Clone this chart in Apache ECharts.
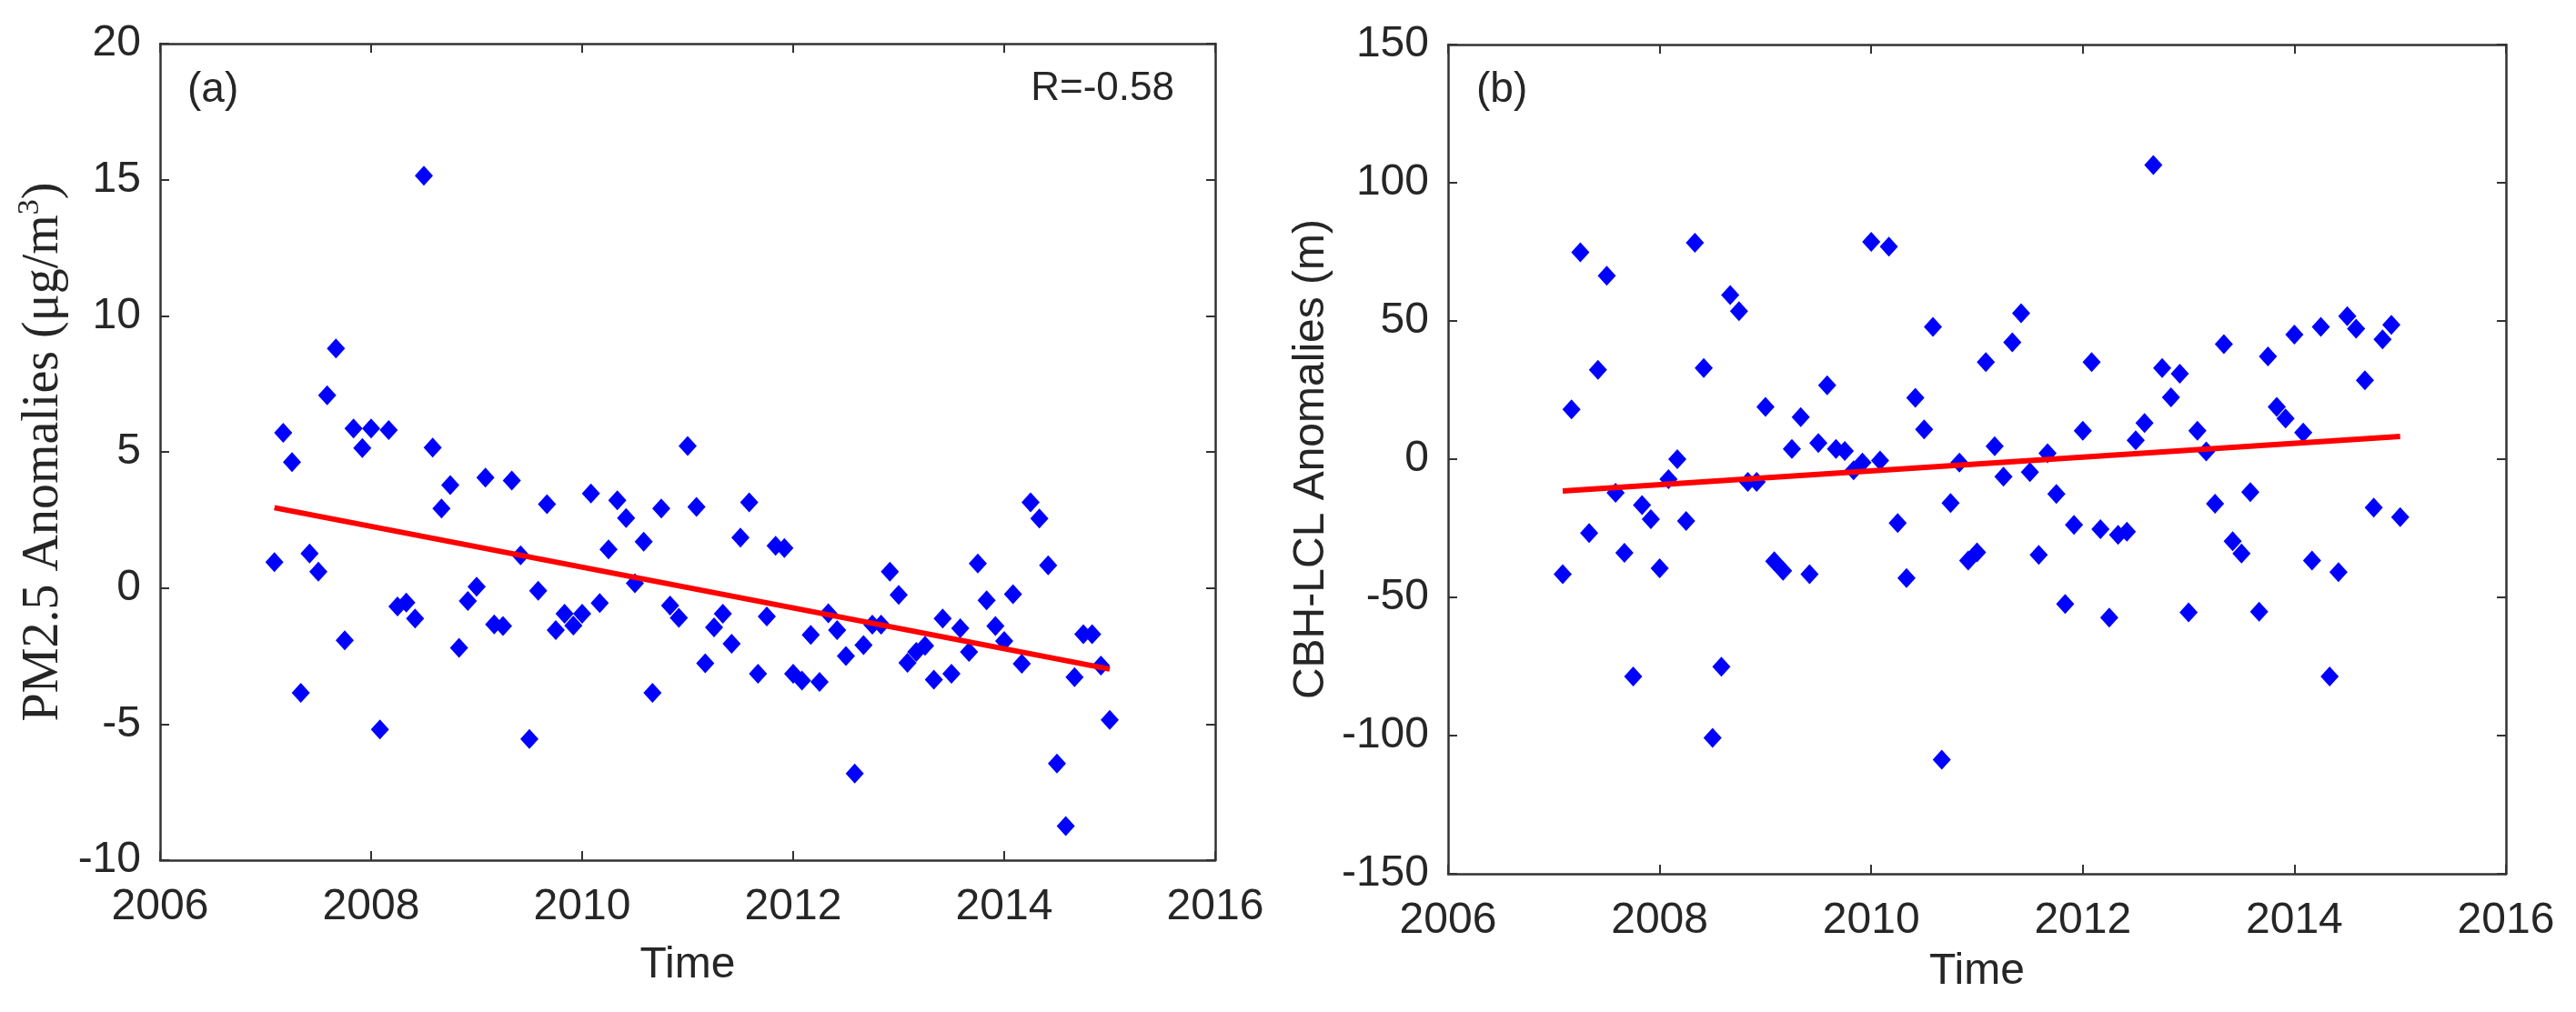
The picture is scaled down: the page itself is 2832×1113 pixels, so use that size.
<!DOCTYPE html>
<html>
<head>
<meta charset="utf-8">
<script src="https://cdn.jsdelivr.net/npm/echarts@6/dist/echarts.min.js"></script>
<style>
  html, body { margin: 0; padding: 0; background: #fff; }
  #chart { width: 2832px; height: 1113px; }
</style>
</head>
<body>
<div id="chart"></div>
<script>
// monthly samples, Feb 2007 .. Jan 2015 (decimal years)
const startYear = 2007;
const monthCount = 96;
const months = [];
for (let i = 1; i <= monthCount; i++) months.push(startYear + i / 12);

const xTicks = [2006, 2016, 2];

// (a) PM2.5 anomalies, ug/m3
const pm25 = [
  0.95, 5.7, 4.62, -3.85, 1.27, 0.6, 7.08, 8.8, -1.92, 5.86, 5.14, 5.86,
  -5.2, 5.8, -0.68, -0.54, -1.12, 15.15, 5.16, 2.92, 3.78, -2.2, -0.48, 0.05,
  4.06, -1.34, -1.4, 3.95, 1.2, -5.55, -0.1, 3.08, -1.55, -0.95, -1.38, -0.95,
  3.47, -0.55, 1.42, 3.22, 2.57, 0.17, 1.7, -3.85, 2.92, -0.65, -1.1, 5.22,
  2.98, -2.77, -1.45, -0.95, -2.05, 1.85, 3.15, -3.15, -1.05, 1.55, 1.47, -3.15,
  -3.4, -1.72, -3.45, -0.93, -1.55, -2.5, -6.82, -2.1, -1.35, -1.35, 0.6, -0.25,
  -2.75, -2.35, -2.12, -3.37, -1.12, -3.15, -1.48, -2.35, 0.9, -0.45, -1.4, -1.95,
  -0.23, -2.78, 3.15, 2.55, 0.83, -6.45, -8.75, -3.28, -1.7, -1.7, -2.85, -4.85
];
const trendA = [2.95, -2.98];
const rA = 'R=-0.58';

// (b) CBH-LCL anomalies, m
const cbh = [
  -41.6, 18.0, 74.8, -26.7, 32.3, 66.4, -12.2, -33.9, -78.6, -16.6, -21.7, -39.5,
  -7.2, 0, -22.4, 78.3, 33.0, -100.8, -75.1, 59.4, 53.5, -8.2, -8.2, 18.9,
  -36.9, -40.4, 3.7, 15.2, -41.6, 5.8, 26.7, 3.7, 3.0, -4.0, -1.2, 78.6,
  -0.5, 76.9, -23.1, -43.0, 22.2, 10.8, 47.9, -108.7, -15.9, -1.2, -36.7, -33.7,
  35.1, 4.7, -6.3, 42.3, 52.8, -4.7, -34.6, 2.1, -12.6, -52.4, -23.8, 10.3,
  35.1, -25.3, -57.3, -27.4, -26.2, 6.8, 13.1, 106.4, 33.0, 22.4, 30.9, -55.4,
  10.3, 2.8, -16.1, 41.6, -29.7, -34.1, -11.9, -55.2, 37.2, 18.9, 14.7, 45.1,
  9.6, -36.7, 47.9, -78.6, -40.9, 51.7, 47.2, 28.5, -17.5, 43.3, 48.6, -21.0
];
const trendB = [-11.5, 8.2];

const yTicksA = [-10, 20, 5];
const yTicksB = [-150, 150, 50];

const axisColor = '#333';
const textColor = '#262626';
const sans = 'Liberation Sans, Arial, sans-serif';
const serif = 'Liberation Serif, Times New Roman, serif';

function pairs(ys) {
  return ys.map((v, i) => [months[i], v]);
}

function boxAxes(gridIndex, kind, ticks, name, nameGap, nameStyle) {
  const base = {
    gridIndex: gridIndex,
    type: 'value',
    min: ticks[0],
    max: ticks[1],
    interval: ticks[2],
    splitLine: { show: false },
    axisLine: { show: true, onZero: false, lineStyle: { color: axisColor, width: 2.5 } },
    axisTick: { show: true, inside: true, length: 10, lineStyle: { color: axisColor, width: 2 } }
  };
  const main = Object.assign({}, base, {
    position: kind === 'x' ? 'bottom' : 'left',
    name: name,
    nameLocation: 'middle',
    nameGap: nameGap,
    nameTextStyle: nameStyle,
    axisLabel: {
      show: true,
      color: textColor,
      fontFamily: sans,
      fontSize: 48,
      margin: kind === 'x' ? 28 : 21,
      formatter: (v) => String(v)
    }
  });
  const opp = Object.assign({}, base, {
    position: kind === 'x' ? 'top' : 'right',
    axisLabel: { show: false }
  });
  return [main, opp];
}

const timeName = { color: textColor, fontFamily: sans, fontSize: 48 };

const xAxes = [
  ...boxAxes(0, 'x', xTicks, 'Time', 92, timeName),
  ...boxAxes(1, 'x', xTicks, 'Time', 84, timeName)
];
const yAxes = [
  ...boxAxes(0, 'y', yTicksA, 'PM2.5 Anomalies (μg/m{sup|3})', 96, {
    color: textColor,
    fontFamily: serif,
    fontSize: 56,
    rich: {
      sup: { fontFamily: serif, fontSize: 34, color: textColor, verticalAlign: 'top', lineHeight: 64 }
    }
  }),
  ...boxAxes(1, 'y', yTicksB, 'CBH-LCL Anomalies (m)', 126, {
    color: textColor,
    fontFamily: sans,
    fontSize: 48
  })
];

function scatter(xi, yi, ys) {
  return {
    type: 'scatter',
    xAxisIndex: xi,
    yAxisIndex: yi,
    data: pairs(ys),
    symbol: 'diamond',
    symbolSize: [20, 22],
    itemStyle: { color: '#0000ff', opacity: 1 },
    silent: true,
    z: 3
  };
}

function trend(xi, yi, ends) {
  return {
    type: 'line',
    xAxisIndex: xi,
    yAxisIndex: yi,
    data: [[months[0], ends[0]], [months[monthCount - 1], ends[1]]],
    showSymbol: false,
    symbol: 'none',
    lineStyle: { color: '#ff0000', width: 6 },
    silent: true,
    z: 4
  };
}

const chart = echarts.init(document.getElementById('chart'));
chart.setOption({
  animation: false,
  backgroundColor: '#fff',
  grid: [
    { left: 176, top: 48, width: 1160, height: 898 },
    { left: 1592, top: 49, width: 1163, height: 912 }
  ],
  xAxis: xAxes,
  yAxis: yAxes,
  series: [
    scatter(0, 0, pm25),
    trend(0, 0, trendA),
    scatter(2, 2, cbh),
    trend(2, 2, trendB)
  ],
  graphic: [
    { type: 'text', left: 206, top: 76, style: { text: '(a)', font: '46px ' + sans, fill: textColor } },
    { type: 'text', right: 2832 - 1291, top: 76, style: { text: rA, font: '44px ' + sans, fill: textColor } },
    { type: 'text', left: 1623, top: 76, style: { text: '(b)', font: '46px ' + sans, fill: textColor } }
  ]
});
</script>
</body>
</html>
